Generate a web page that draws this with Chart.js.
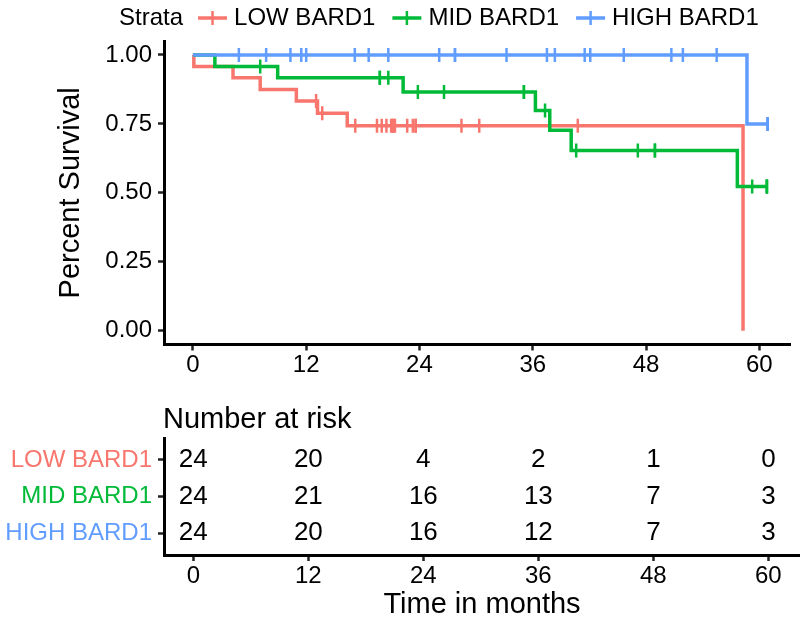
<!DOCTYPE html>
<html>
<head>
<meta charset="utf-8">
<script src="https://cdn.jsdelivr.net/npm/chart.js@4.4.0/dist/chart.umd.min.js"></script>
<style>
body { margin: 0; background: #fff; }
#wrap { position: relative; width: 800px; height: 620px; }
#survChart { position: absolute; left: 0; top: 0; }
#riskChart { position: absolute; left: 0; top: 380px; }
</style>
</head>
<body>
<div id="wrap">
  <canvas id="survChart" width="800" height="380"></canvas>
  <canvas id="riskChart" width="800" height="240"></canvas>
</div>
<script>
const FONT = "'Liberation Sans', Arial, Helvetica, sans-serif"

const strata = ['LOW BARD1', 'MID BARD1', 'HIGH BARD1']
const colors = ['#F8766D', '#00BA38', '#619CFF']

// x axis (months)
const xTicks = [0, 12, 24, 36, 48, 60]
const yTicks = [0, 0.25, 0.5, 0.75, 1]

// step curves: time of each step and survival after it
const lowTimes = [0, 0.1, 4.25, 7.13, 10.96, 13.2, 16.35, 58.27]
const lowSurv = [1, 0.958, 0.917, 0.875, 0.833, 0.789, 0.743, 0]
const lowCensor = [13.05, 13.7, 17.2, 19.5, 20.0, 20.5, 21.0, 21.2, 21.2, 21.4, 22.7, 23.3, 23.6, 23.6, 28.45, 30.33, 40.77]

const midTimes = [0, 2.33, 8.98, 22.27, 36.28, 37.8, 40.07, 57.67, 60.8]
const midSurv = [1, 0.958, 0.917, 0.866, 0.799, 0.727, 0.654, 0.523, 0.523]
const midCensor = [7.13, 19.8, 19.8, 20.7, 23.83, 26.6, 35.06, 35.06, 37.3, 40.6, 47.13, 48.94, 48.94, 59.24, 60.8, 60.8, 60.8]

const highTimes = [0, 58.69, 60.88]
const highSurv = [1, 0.75, 0.75]
const highCensor = [4.87, 7.76, 10.33, 11.48, 12.0, 17.15, 18.62, 20.7, 26.09, 27.76, 27.76, 33.22, 37.5, 38.34, 41.5, 42.09, 45.64, 50.68, 51.9, 55.48, 60.88, 60.88, 60.88]

// number at risk table
const riskTimes = [0, 12, 24, 36, 48, 60]
const riskLow = [24, 20, 4, 2, 1, 0]
const riskMid = [24, 21, 16, 13, 7, 3]
const riskHigh = [24, 20, 16, 12, 7, 3]

const curves = [
    { times: lowTimes, surv: lowSurv, censor: lowCensor },
    { times: midTimes, surv: midSurv, censor: midCensor },
    { times: highTimes, surv: highSurv, censor: highCensor }
]

function survAt(times, surv, t) {
    let s = surv[0]
    for (let i = 0; i < times.length; i++) {
        if (times[i] <= t) s = surv[i]
    }
    return s
}

const axisGrid = {
    display: true,
    drawOnChartArea: false,
    drawTicks: true,
    tickLength: 6,
    tickWidth: 2.5,
    tickColor: '#222'
}
const axisBorder = { display: true, width: 3, color: '#000' }
const tickFont = { size: 24, family: FONT }

// censor marks first so they sit on top, HIGH drawn last (on top)
let censorSets = []
let lineSets = []
for (let i = 2; i >= 0; i--) {
    const c = curves[i]
    censorSets.push({
        label: strata[i] + ' censor',
        data: c.censor.map(t => ({ x: t, y: survAt(c.times, c.surv, t) })),
        showLine: false,
        pointStyle: 'line',
        rotation: 90,
        pointRadius: 7,
        pointBorderWidth: 2.5,
        pointBorderColor: colors[i],
        borderColor: colors[i]
    })
    lineSets.push({
        label: strata[i],
        data: c.times.map((t, k) => ({ x: t, y: c.surv[k] })),
        stepped: 'before',
        borderColor: colors[i],
        borderWidth: 3.5,
        pointRadius: 0,
        fill: false
    })
}

const strataLegend = {
    id: 'strataLegend',
    afterDraw(chart) {
        const ctx = chart.ctx
        ctx.save()
        ctx.font = `24px ${FONT}`
        ctx.textBaseline = 'middle'
        ctx.fillStyle = '#000'
        let x = 119
        const y = 18
        ctx.fillText('Strata', x, y)
        x += ctx.measureText('Strata').width + 15
        strata.forEach((name, i) => {
            ctx.strokeStyle = colors[i]
            ctx.lineWidth = 3.5
            ctx.beginPath(); ctx.moveTo(x, y); ctx.lineTo(x + 29, y); ctx.stroke()
            ctx.lineWidth = 2.5
            ctx.beginPath(); ctx.moveTo(x + 14.5, y - 7); ctx.lineTo(x + 14.5, y + 7); ctx.stroke()
            x += 29 + 7
            ctx.fillStyle = '#000'
            ctx.fillText(name, x, y)
            x += ctx.measureText(name).width + 17
        })
        ctx.restore()
    }
}

new Chart(document.getElementById('survChart'), {
    type: 'line',
    data: { datasets: [...censorSets, ...lineSets] },
    options: {
        responsive: false,
        animation: false,
        layout: { padding: { top: 41.2, left: 0, right: 0, bottom: 0 } },
        plugins: { legend: { display: false }, tooltip: { enabled: false } },
        scales: {
            x: {
                type: 'linear',
                min: -3.06,
                max: 63.3,
                afterBuildTicks: s => { s.ticks = xTicks.map(v => ({ value: v })) },
                afterFit: s => { s.height = 35.5 },
                grid: axisGrid,
                border: axisBorder,
                ticks: { autoSkip: false, maxRotation: 0, padding: 0, color: '#000', font: tickFont }
            },
            y: {
                type: 'linear',
                min: -0.05,
                max: 1.05,
                afterBuildTicks: s => { s.ticks = yTicks.map(v => ({ value: v })) },
                afterFit: s => { s.width = 164 },
                grid: axisGrid,
                border: axisBorder,
                ticks: { autoSkip: false, padding: 6, color: '#000', font: tickFont, callback: v => v.toFixed(2) },
                title: { display: true, text: 'Percent Survival', color: '#000', font: { size: 29, family: FONT }, padding: { top: 54, bottom: 0 } }
            }
        }
    },
    plugins: [strataLegend]
})

// risk table
const riskRows = [riskLow, riskMid, riskHigh]
const riskSets = riskRows.map((row, i) => ({
    label: strata[i],
    data: riskTimes.map(t => ({ x: t, y: i + 1 })),
    values: row,
    showLine: false,
    pointRadius: 0
}))

const riskLabels = {
    id: 'riskLabels',
    afterDatasetsDraw(chart) {
        const ctx = chart.ctx
        ctx.save()
        ctx.fillStyle = '#000'
        ctx.textAlign = 'center'
        ctx.textBaseline = 'middle'
        ctx.font = `26px ${FONT}`
        chart.data.datasets.forEach((ds, i) => {
            chart.getDatasetMeta(i).data.forEach((pt, k) => {
                ctx.fillText(String(ds.values[k]), pt.x, pt.y)
            })
        })
        ctx.textAlign = 'left'
        ctx.font = `29px ${FONT}`
        ctx.fillText('Number at risk', chart.chartArea.left - 1, 40)
        ctx.restore()
    }
}

new Chart(document.getElementById('riskChart'), {
    type: 'line',
    data: { datasets: riskSets },
    options: {
        responsive: false,
        animation: false,
        layout: { padding: { top: 58, left: 0, right: 0, bottom: 0 } },
        plugins: { legend: { display: false }, tooltip: { enabled: false } },
        scales: {
            x: {
                type: 'linear',
                min: -3.06,
                max: 63.3,
                afterBuildTicks: s => { s.ticks = xTicks.map(v => ({ value: v })) },
                afterFit: s => { s.height = 65 },
                grid: axisGrid,
                border: axisBorder,
                ticks: { autoSkip: false, maxRotation: 0, padding: 1, color: '#000', font: tickFont },
                title: { display: true, text: 'Time in months', color: '#000', font: { size: 29, family: FONT, lineHeight: 1 }, padding: { top: 0, bottom: 0.5 } }
            },
            y: {
                type: 'linear',
                min: 0.4,
                max: 3.6,
                reverse: true,
                afterBuildTicks: s => { s.ticks = [1, 2, 3].map(v => ({ value: v })) },
                afterFit: s => { s.width = 164 },
                grid: axisGrid,
                border: axisBorder,
                ticks: {
                    autoSkip: false,
                    padding: 6,
                    font: tickFont,
                    color: c => colors[c.index],
                    callback: v => strata[v - 1]
                }
            }
        }
    },
    plugins: [riskLabels]
})
</script>
</body>
</html>
